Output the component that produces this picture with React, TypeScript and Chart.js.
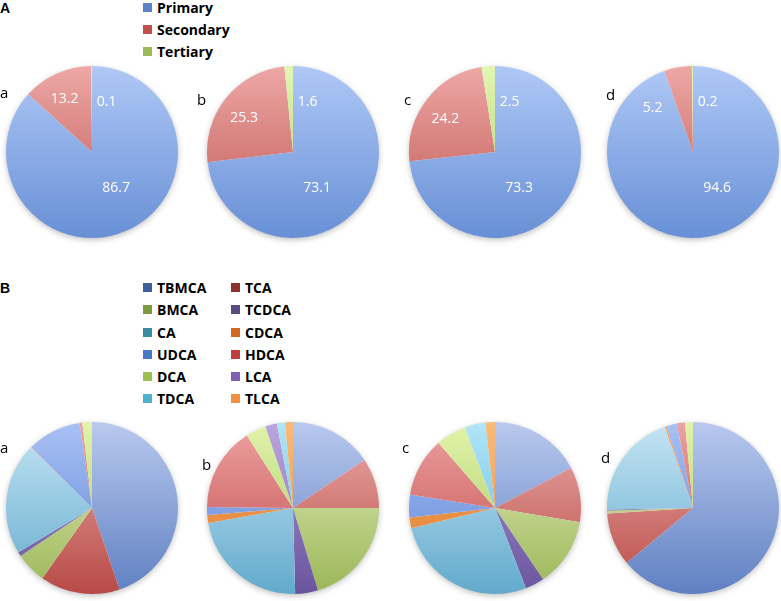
import React, { useEffect, useRef } from "react";
import { Chart, registerables } from "chart.js";
Chart.register(...registerables);

// ---------- DATA ----------
const panelLetters = ["a", "b", "c", "d"];

// Panel A: bile acid origin (%)
const originCategories = ["Primary", "Secondary", "Tertiary"];
const primaryPct = [86.7, 73.1, 73.3, 94.6];
const secondaryPct = [13.2, 25.3, 24.2, 5.2];
const tertiaryPct = [0.1, 1.6, 2.5, 0.2];

// Panel B: individual bile acids (%), values for pies a, b, c, d
const bileAcids = ["TBMCA", "TCA", "BMCA", "TCDCA", "CA", "CDCA", "UDCA", "HDCA", "DCA", "LCA", "TDCA", "TLCA"];
const TBMCA = [44.8, 15.6, 17.3, 64.0];
const TCA = [15.0, 9.4, 10.4, 10.0];
const BMCA = [5.8, 20.3, 12.9, 0.5];
const TCDCA = [0.8, 4.3, 3.6, 0.2];
const CA = [21.0, 22.6, 27.1, 20.0];
const CDCA = [0.1, 1.5, 2.0, 0.3];
const UDCA = [10.2, 1.5, 4.3, 2.0];
const HDCA = [0.5, 15.8, 11.1, 1.5];
const DCA = [1.8, 3.8, 5.7, 1.5];
const LCA = [0.0, 2.2, 0.0, 0.0];
const TDCA = [0.0, 1.5, 3.9, 0.0];
const TLCA = [0.0, 1.5, 1.8, 0.0];
const bileAcidSeries = [TBMCA, TCA, BMCA, TCDCA, CA, CDCA, UDCA, HDCA, DCA, LCA, TDCA, TLCA];

// ---------- STYLES ----------
const originLight = ["#afc8f6", "#eda8a6", "#e2f6b2"];
const originDark = ["#6890d6", "#bd544f", "#a8cc6a"];
const originSwatch = ["#5b82c8", "#c0504d", "#9bbb59"];

const acidLight = ["#b9c9ee", "#ebaca9", "#e5efbf", "#aa9acd", "#c5e5f5", "#f3a262", "#a9c1f4", "#eda2a2", "#e1f4aa", "#baa6dd", "#b2e5f8", "#f8ba7a"];
const acidDark = ["#5f80c2", "#b84a46", "#9ab656", "#6a54a0", "#62aacc", "#e08030", "#5a82d4", "#c04848", "#a4c460", "#8466b4", "#58b8dc", "#ec9040"];
const acidSwatch = ["#3e5f9c", "#8c2f2f", "#7a9a3c", "#5b4a86", "#3a8ba0", "#d06a20", "#4a78c8", "#c04040", "#9cc050", "#8060b0", "#50b0d0", "#f09040"];

const SANS = '"Open Sans", "Noto Sans", sans-serif';
const ARIAL = '"Liberation Sans", Arial, sans-serif';

const R = 86;
const PAD = 9;
const SIZE = 2 * (R + PAD);

function Pie(props: { values: number[]; light: string[]; dark: string[]; cx: number; cy: number; showLabels: boolean }) {
  const ref = useRef<HTMLCanvasElement | null>(null);
  useEffect(() => {
    const canvas = ref.current!;
    const { values, light, dark, showLabels } = props;
    const grad = (ctx: any) => {
      const chart = ctx.chart;
      const area = chart.chartArea;
      const i = ctx.dataIndex;
      if (!area) return light[i];
      const g = chart.ctx.createLinearGradient(0, area.top, 0, area.bottom);
      g.addColorStop(0, light[i]);
      g.addColorStop(1, dark[i]);
      return g;
    };
    const shadowPlugin = {
      id: "pieShadow",
      beforeDatasetsDraw(chart: any) {
        const arc = chart.getDatasetMeta(0).data[0];
        if (!arc) return;
        const c = chart.ctx;
        c.save();
        c.shadowColor = "rgba(0,0,0,0.28)";
        c.shadowBlur = 6;
        c.shadowOffsetY = 2;
        c.fillStyle = "#ffffff";
        c.beginPath();
        c.arc(arc.x, arc.y, arc.outerRadius - 0.5, 0, Math.PI * 2);
        c.fill();
        c.restore();
      },
    };
    const labelPlugin = {
      id: "pieLabels",
      afterDatasetsDraw(chart: any) {
        if (!showLabels) return;
        const c = chart.ctx;
        const total = values.reduce((s, v) => s + v, 0);
        const deg = Math.PI / 180;
        c.save();
        c.fillStyle = "#ffffff";
        c.font = `14px ${SANS}`;
        c.textAlign = "center";
        c.textBaseline = "alphabetic";
        chart.getDatasetMeta(0).data.forEach((arc: any, i: number) => {
          const pct = (values[i] / total) * 100;
          const mid = (arc.startAngle + arc.endAngle) / 2;
          let a: number;
          let rr: number;
          if (pct > 50) {
            a = 55 * deg;
            rr = 0.49 * arc.outerRadius;
          } else if (pct < 3) {
            a = -74 * deg;
            rr = 0.62 * arc.outerRadius;
          } else if (pct < 8) {
            a = mid - 32 * deg;
            rr = 0.7 * arc.outerRadius;
          } else {
            a = mid - 3 * deg;
            rr = 0.7 * arc.outerRadius;
          }
          const x = arc.x + Math.cos(a) * rr;
          const y = arc.y + Math.sin(a) * rr;
          c.fillText(values[i].toFixed(1), x, y + 5);
        });
        c.restore();
      },
    };
    const chart = new Chart(canvas, {
      type: "pie",
      data: {
        labels: values.map((_, i) => String(i)),
        datasets: [{ data: values, backgroundColor: grad as any, borderWidth: 0, hoverOffset: 0 }],
      },
      options: {
        responsive: false,
        maintainAspectRatio: false,
        animation: false,
        layout: { padding: PAD },
        plugins: { legend: { display: false }, tooltip: { enabled: false } },
        events: [],
      },
      plugins: [shadowPlugin, labelPlugin],
    });
    return () => chart.destroy();
  }, []);
  return (
    <canvas
      ref={ref}
      width={SIZE}
      height={SIZE}
      style={{ position: "absolute", left: props.cx - R - PAD, top: props.cy - R - PAD, width: SIZE, height: SIZE }}
    />
  );
}

function Txt(props: { x: number; base: number; size: number; bold?: boolean; arial?: boolean; color?: string; children: any }) {
  const asc = props.arial ? 0.905 : 1.069;
  return (
    <div
      style={{
        position: "absolute",
        left: props.x,
        top: props.base - asc * props.size,
        fontSize: props.size,
        lineHeight: "normal",
        fontFamily: props.arial ? ARIAL : SANS,
        fontWeight: props.bold ? 700 : 400,
        color: props.color || "#000",
        whiteSpace: "nowrap",
      }}
    >
      {props.children}
    </div>
  );
}

function Swatch(props: { x: number; base: number; color: string }) {
  return <div style={{ position: "absolute", left: props.x, top: props.base - 10, width: 9, height: 9, background: props.color }} />;
}

const pieCentersX = [92, 293, 495, 693];
const rowACenterY = 152;
const rowBCenterY = 508;
const subLabelA = [
  { x: 0, base: 98 },
  { x: 197, base: 105 },
  { x: 404, base: 105 },
  { x: 606, base: 100 },
];
const subLabelB = [
  { x: 0, base: 453 },
  { x: 202, base: 470 },
  { x: 402, base: 453 },
  { x: 601, base: 463 },
];

export default function App() {
  const originBases = [13, 35, 57];
  const acidBases = [293, 315, 337.5, 360, 382, 404];
  return (
    <div style={{ position: "fixed", left: 0, top: 0, width: 781, height: 601, background: "#fff", overflow: "hidden" }}>
      <Txt x={0} base={13} size={14} bold arial>A</Txt>
      <Txt x={0} base={293} size={14} bold arial>B</Txt>

      {originCategories.map((name, i) => (
        <React.Fragment key={name}>
          <Swatch x={143} base={originBases[i]} color={originSwatch[i]} />
          <Txt x={157} base={originBases[i]} size={14} bold>{name}</Txt>
        </React.Fragment>
      ))}

      {bileAcids.map((name, i) => {
        const col = i % 2;
        const row = Math.floor(i / 2);
        return (
          <React.Fragment key={name}>
            <Swatch x={col === 0 ? 143 : 231} base={acidBases[row]} color={acidSwatch[i]} />
            <Txt x={col === 0 ? 157 : 245} base={acidBases[row]} size={14} bold>{name}</Txt>
          </React.Fragment>
        );
      })}

      {panelLetters.map((letter, k) => (
        <React.Fragment key={"A" + letter}>
          <Pie
            values={[primaryPct[k], secondaryPct[k], tertiaryPct[k]]}
            light={originLight}
            dark={originDark}
            cx={pieCentersX[k]}
            cy={rowACenterY}
            showLabels={true}
          />
          <Txt x={subLabelA[k].x} base={subLabelA[k].base} size={15}>{letter}</Txt>
        </React.Fragment>
      ))}

      {panelLetters.map((letter, k) => (
        <React.Fragment key={"B" + letter}>
          <Pie
            values={bileAcidSeries.map((s) => s[k])}
            light={acidLight}
            dark={acidDark}
            cx={pieCentersX[k]}
            cy={rowBCenterY}
            showLabels={false}
          />
          <Txt x={subLabelB[k].x} base={subLabelB[k].base} size={15}>{letter}</Txt>
        </React.Fragment>
      ))}
    </div>
  );
}
